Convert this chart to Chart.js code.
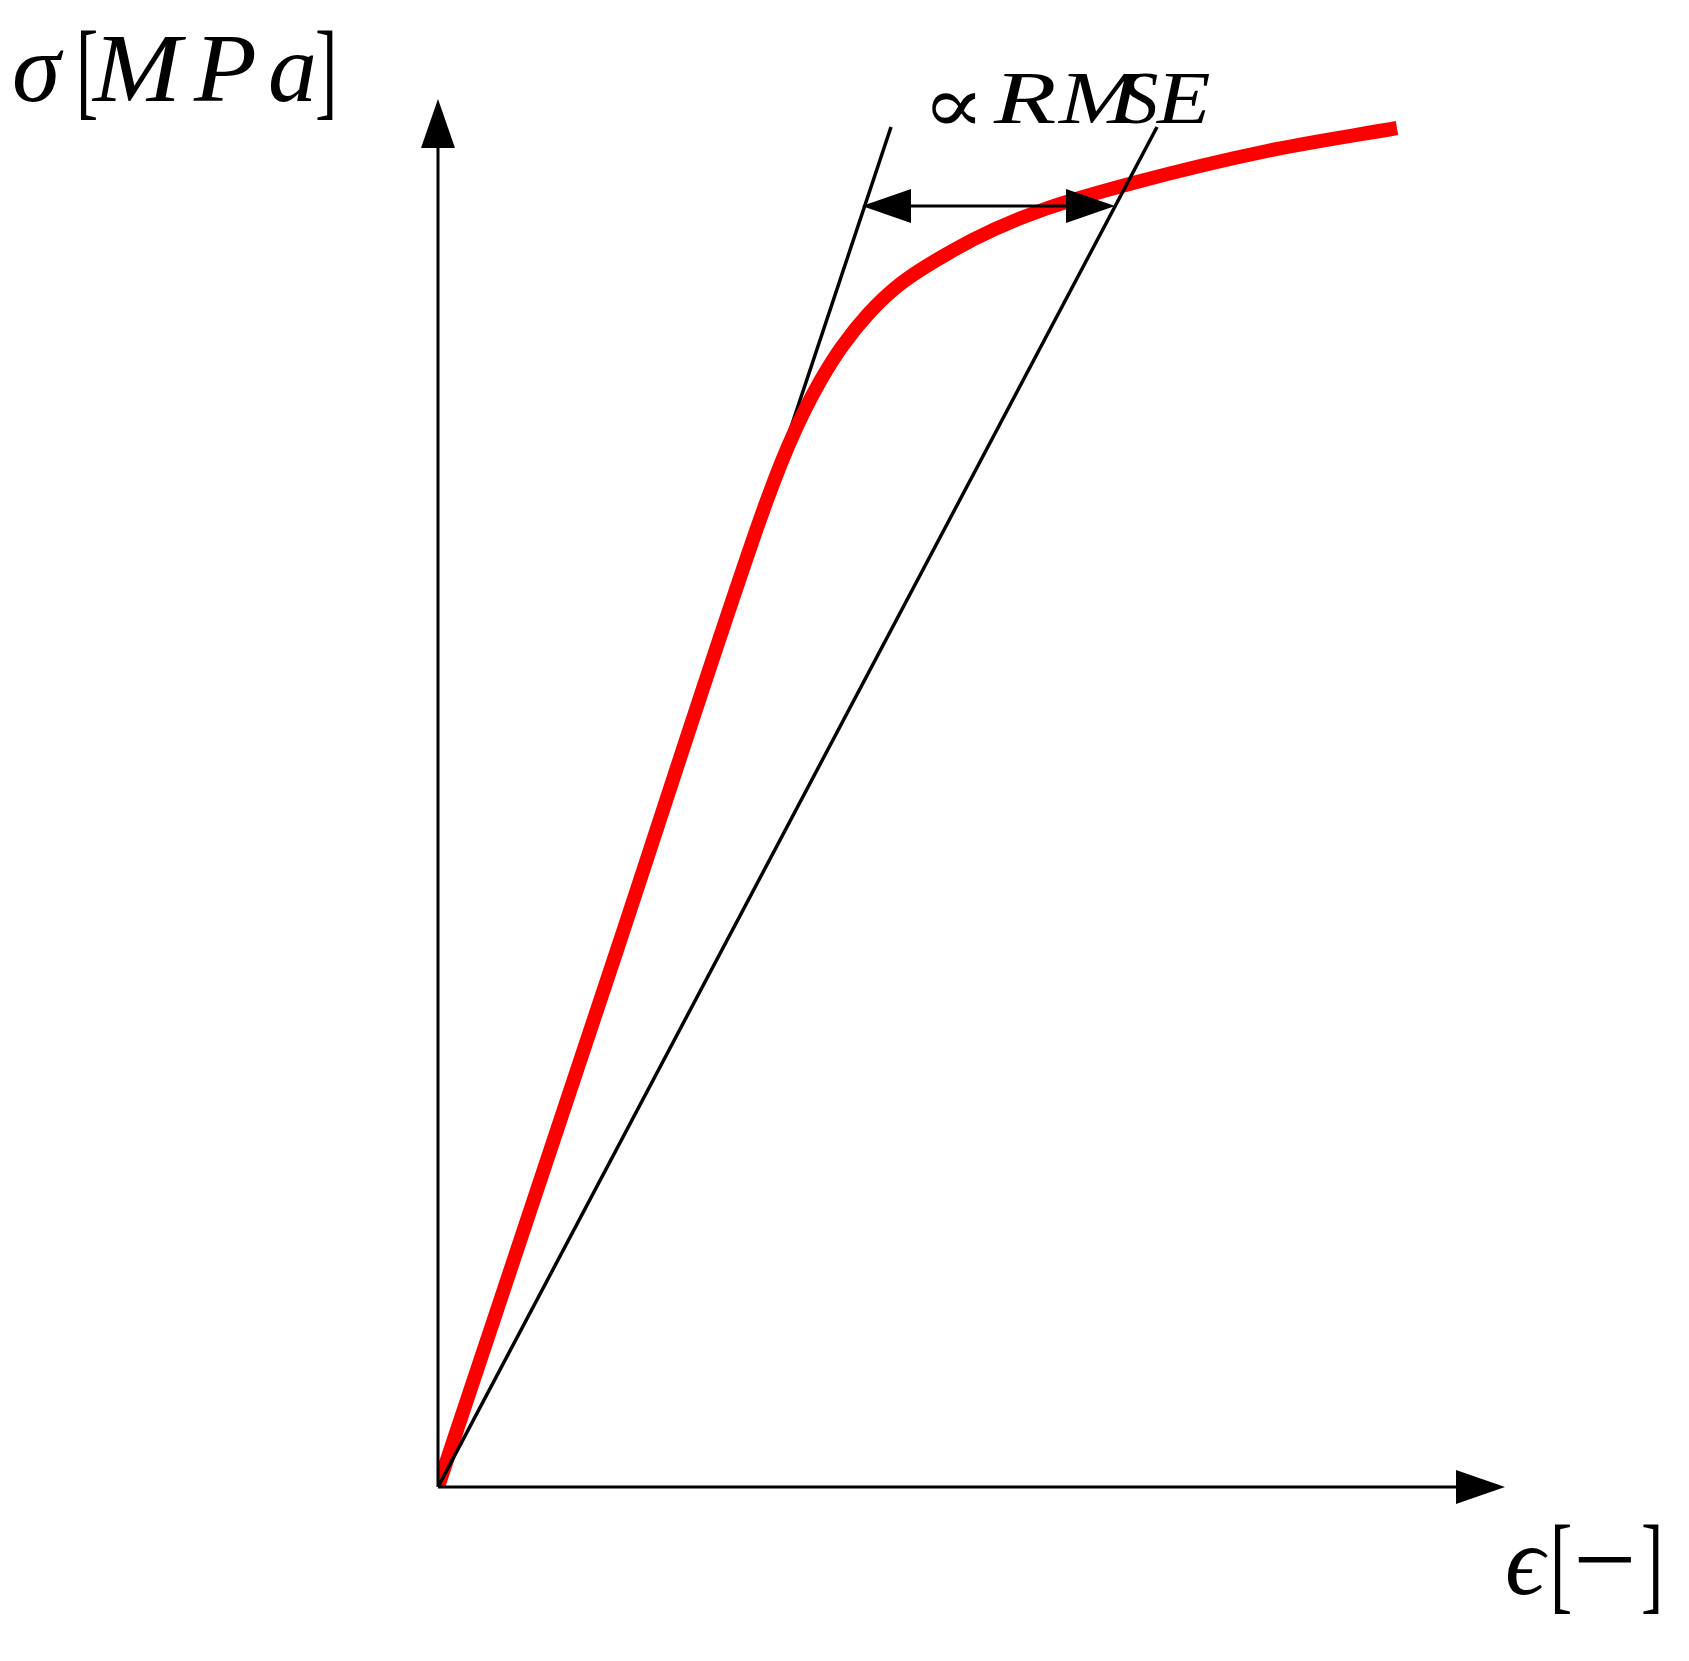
<!DOCTYPE html>
<html>
<head>
<meta charset="utf-8">
<script src="https://cdn.jsdelivr.net/npm/chart.js@4"></script>
<style>
  html, body { margin: 0; padding: 0; background: #ffffff; }
  canvas { display: block; }
</style>
</head>
<body>
<canvas id="c" width="1689" height="1661"></canvas>
<script>
// Stress-strain curve (arbitrary units)
const strain = [0, 17.9, 31.9, 33.65, 34.98, 36.53, 38.28, 40.37, 43.02, 46.22, 51.4, 55.7, 60.7, 69.5, 82.9, 95.9];
const stress = [0, 53.7, 95.9, 100.7, 104.0, 107.4, 110.7, 114.0, 117.3, 120.3, 123.6, 125.8, 127.8, 130.4, 133.6, 135.9];
// Tangent (initial modulus) line
const tangentStrain = [0, 45.3];
const tangentStress = [0, 136.0];
// Secant line
const secantStrain = [0, 71.9];
const secantStress = [0, 136.0];
// RMSE double arrow
const rmseArrowStrain = [42.4, 67.7];
const rmseArrowStress = 128.1;
// Axis extents
const xAxisMax = 106.7;
const yAxisMax = 138.8;

const toPts = (xs, ys) => xs.map((x, i) => ({ x: x, y: ys[i] }));

function arrowHead(ctx, tipX, tipY, dirX, dirY, len, half) {
  const nx = -dirY, ny = dirX;
  const bx = tipX - dirX * len, by = tipY - dirY * len;
  ctx.beginPath();
  ctx.moveTo(tipX, tipY);
  ctx.lineTo(bx + nx * half, by + ny * half);
  ctx.lineTo(bx - nx * half, by - ny * half);
  ctx.closePath();
  ctx.fill();
}

function glyph(ctx, ch, x, y, font, sx, sy) {
  ctx.save();
  ctx.font = font;
  ctx.translate(x, y);
  ctx.scale(sx, sy || 1);
  ctx.fillText(ch, 0, 0);
  ctx.restore();
}

const overlay = {
  id: 'overlay',
  afterDatasetsDraw(chart) {
    const ctx = chart.ctx;
    const xs = chart.scales.x, ys = chart.scales.y;
    const ox = xs.getPixelForValue(0), oy = ys.getPixelForValue(0);
    const xEnd = xs.getPixelForValue(xAxisMax), yEnd = ys.getPixelForValue(yAxisMax);
    ctx.save();
    ctx.strokeStyle = '#000';
    ctx.fillStyle = '#000';
    ctx.lineWidth = 3;
    ctx.lineCap = 'butt';
    // axes
    ctx.beginPath();
    ctx.moveTo(ox, oy); ctx.lineTo(xEnd - 40, oy);
    ctx.moveTo(ox, oy); ctx.lineTo(ox, yEnd + 40);
    ctx.stroke();
    arrowHead(ctx, xEnd, oy, 1, 0, 49, 17);
    arrowHead(ctx, ox, yEnd, 0, -1, 49, 17);
    // RMSE double arrow
    const ay = ys.getPixelForValue(rmseArrowStress);
    const a1 = xs.getPixelForValue(rmseArrowStrain[0]);
    const a2 = xs.getPixelForValue(rmseArrowStrain[1]);
    ctx.lineWidth = 3.2;
    ctx.beginPath();
    ctx.moveTo(a1 + 40, ay); ctx.lineTo(a2 - 40, ay);
    ctx.stroke();
    arrowHead(ctx, a1, ay, -1, 0, 49, 17);
    arrowHead(ctx, a2, ay, 1, 0, 49, 17);

    // Labels
    ctx.textBaseline = 'alphabetic';
    ctx.textAlign = 'left';
    const ital = (s) => 'italic ' + s + 'px "Liberation Serif", "DejaVu Serif", serif';
    const up = (s) => s + 'px "Liberation Serif", "DejaVu Serif", serif';
    // sigma [MPa]
    glyph(ctx, 'σ', 12, 101, ital(98), 1.0);
    glyph(ctx, '[', 76, 106, up(108), 0.62);
    glyph(ctx, 'M', 93, 101, ital(98), 1.08);
    glyph(ctx, 'P', 194, 101, ital(98), 1.05);
    glyph(ctx, 'a', 268, 101, ital(98), 1.0);
    glyph(ctx, ']', 315, 106, up(108), 0.62);
    // proportional RMSE
    glyph(ctx, '∝', 922, 132, '86px "DejaVu Serif", "Liberation Serif", serif', 1.08, 0.92);
    glyph(ctx, 'R', 994, 123, ital(73), 1.4);
    glyph(ctx, 'M', 1059, 123, ital(73), 1.3);
    glyph(ctx, 'S', 1120, 123, ital(73), 1.05);
    glyph(ctx, 'E', 1157, 123, ital(73), 1.2);
    // epsilon [-]
    glyph(ctx, 'ϵ', 1505, 1594, ital(98), 1.0);
    glyph(ctx, '[', 1550, 1600, up(108), 0.62);
    glyph(ctx, '−', 1573, 1597, up(112), 1.0);
    glyph(ctx, ']', 1641, 1600, up(108), 0.62);
    ctx.restore();
  }
};

new Chart(document.getElementById('c'), {
  type: 'line',
  data: {
    datasets: [
      {
        label: 'secant',
        data: toPts(secantStrain, secantStress),
        borderColor: '#000000',
        borderWidth: 3.5,
        pointRadius: 0,
        fill: false
      },
      {
        label: 'stress-strain',
        data: toPts(strain, stress),
        borderColor: '#ff0000',
        borderWidth: 14,
        pointRadius: 0,
        cubicInterpolationMode: 'monotone',
        borderCapStyle: 'butt',
        fill: false
      },
      {
        label: 'tangent',
        data: toPts(tangentStrain, tangentStress),
        borderColor: '#000000',
        borderWidth: 3.5,
        pointRadius: 0,
        fill: false
      }
    ]
  },
  options: {
    responsive: false,
    devicePixelRatio: 1,
    animation: false,
    events: [],
    layout: { padding: { left: 438, right: 184, top: 99, bottom: 174 } },
    plugins: { legend: { display: false }, tooltip: { enabled: false } },
    scales: {
      x: { type: 'linear', min: 0, max: xAxisMax, display: false },
      y: { type: 'linear', min: 0, max: yAxisMax, display: false }
    }
  },
  plugins: [overlay]
});
</script>
</body>
</html>
